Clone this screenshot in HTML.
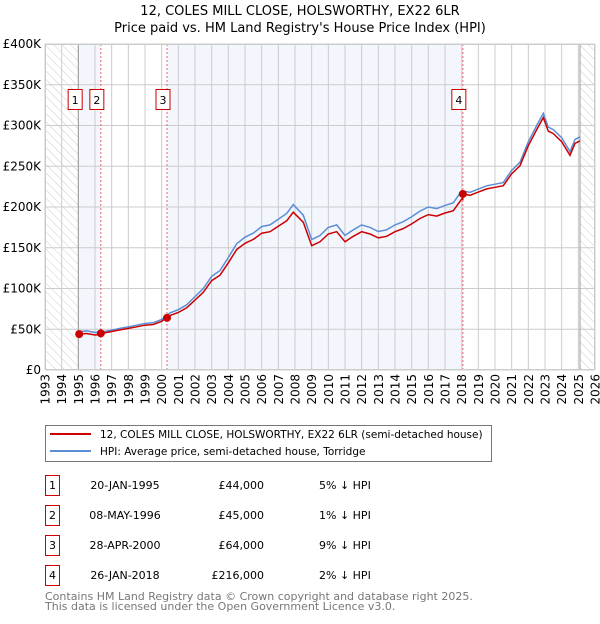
<!DOCTYPE html>
<html><head><meta charset="utf-8"><style>
body{margin:0;background:#fff;font-family:"DejaVu Sans","Liberation Sans",sans-serif;}
svg text{font-family:"DejaVu Sans","Liberation Sans",sans-serif;}
</style></head><body>
<svg id="c" width="600" height="620" xmlns="http://www.w3.org/2000/svg">
<defs><pattern id="hatch" width="6" height="6" patternUnits="userSpaceOnUse" patternTransform="rotate(-45)"><line x1="0" y1="0" x2="0" y2="6" stroke="#ccc" stroke-width="1"/></pattern></defs>
<text x="300" y="15" text-anchor="middle" font-size="13">12, COLES MILL CLOSE, HOLSWORTHY, EX22 6LR</text>
<text x="300" y="32" text-anchor="middle" font-size="13">Price paid vs. HM Land Registry's House Price Index (HPI)</text>
<g id="plot"></g>
<g>
<rect x="45.5" y="425.5" width="446" height="36" fill="#fff" stroke="#777"/>
<line x1="50" y1="434" x2="91" y2="434" stroke="#cc0000" stroke-width="2"/>
<text x="100" y="438" font-size="10.5">12, COLES MILL CLOSE, HOLSWORTHY, EX22 6LR (semi-detached house)</text>
<line x1="50" y1="451" x2="91" y2="451" stroke="#5b8ed6" stroke-width="2"/>
<text x="100" y="455" font-size="10.5">HPI: Average price, semi-detached house, Torridge</text>
</g>
<g id="table"></g>
<text x="45" y="600" font-size="11" fill="#777">Contains HM Land Registry data © Crown copyright and database right 2025.</text>
<text x="45" y="610" font-size="11" fill="#777">This data is licensed under the Open Government Licence v3.0.</text>
</svg>
<script>
const hpiT=[1995.0,1995.5,1996.0,1996.5,1997.0,1997.5,1998.0,1998.5,1999.0,1999.5,2000.0,2000.5,2001.0,2001.5,2002.0,2002.5,2003.0,2003.5,2004.0,2004.5,2005.0,2005.5,2006.0,2006.5,2007.0,2007.5,2007.9,2008.5,2009.0,2009.5,2010.0,2010.5,2011.0,2011.5,2012.0,2012.5,2013.0,2013.5,2014.0,2014.5,2015.0,2015.5,2016.0,2016.5,2017.0,2017.5,2018.0,2018.5,2019.0,2019.5,2020.0,2020.5,2021.0,2021.5,2022.0,2022.5,2022.9,2023.2,2023.5,2024.0,2024.5,2024.8,2025.1];
const hpiV=[47,48,46,47,49,51,53,55,57,58,62,70,74,80,90,100,115,122,138,155,163,168,176,178,185,192,203,190,160,165,175,178,165,172,178,175,170,172,178,182,188,195,200,198,202,205,220,218,222,226,228,230,245,255,280,300,315,298,295,285,268,283,286];
const saleT=[1995.05,1996.35,2000.32,2018.07];
const saleV=[44,45,64,216];
const saleLabels=["1","2","3","4"];
const saleDates=["20-JAN-1995","08-MAY-1996","28-APR-2000","26-JAN-2018"];
const salePrices=["£44,000","£45,000","£64,000","£216,000"];
const saleHpi=["5% ↓ HPI","1% ↓ HPI","9% ↓ HPI","2% ↓ HPI"];
const yTicks=[0,50,100,150,200,250,300,350,400];
const yTickLabels=["£0","£50K","£100K","£150K","£200K","£250K","£300K","£350K","£400K"];
const xYears=[1993,1994,1995,1996,1997,1998,1999,2000,2001,2002,2003,2004,2005,2006,2007,2008,2009,2010,2011,2012,2013,2014,2015,2016,2017,2018,2019,2020,2021,2022,2023,2024,2025,2026];

const NS="http://www.w3.org/2000/svg";
const L=45,R=595,T=44,B=370,X0=1993,X1=2026;
const xs=t=>L+(t-X0)/(X1-X0)*(R-L);
const ys=v=>B-v/400*(B-T);
const g=document.getElementById('plot');
function mk(tag,attrs,parent){const e=document.createElementNS(NS,tag);for(const k in attrs)e.setAttribute(k,attrs[k]);(parent||g).appendChild(e);return e;}
function hpiAt(t){if(t<=hpiT[0])return hpiV[0];for(let i=1;i<hpiT.length;i++){if(t<=hpiT[i]){const f=(t-hpiT[i-1])/(hpiT[i]-hpiT[i-1]);return hpiV[i-1]+f*(hpiV[i]-hpiV[i-1]);}}return hpiV[hpiV.length-1];}

let e=mk('rect',{x:L,y:T,width:R-L,height:B-T,fill:'#fff'});

[[0,1],[2,3]].forEach((p,i)=>{const r=mk('rect',{x:xs(saleT[p[0]]),y:T,width:xs(saleT[p[1]])-xs(saleT[p[0]]),height:B-T,fill:'#f3f6fd'});
});
e=mk('rect',{x:L,y:T,width:xs(1995)-L,height:B-T,fill:'url(#hatch)'});

e=mk('rect',{x:xs(2025.1),y:T,width:R-xs(2025.1),height:B-T,fill:'url(#hatch)'});

yTicks.forEach((v,i)=>{const l=mk('line',{x1:L,x2:R,y1:ys(v),y2:ys(v),stroke:'#ccc'});

const t=mk('text',{x:L-4,y:ys(v)+4,'text-anchor':'end','font-size':'12'});t.textContent=yTickLabels[i];
});
xYears.forEach(yr=>{const l=mk('line',{x1:xs(yr),x2:xs(yr),y1:T,y2:B,stroke:'#ccc'});

const t=mk('text',{x:0,y:0,'text-anchor':'end','font-size':'12',transform:`translate(${xs(yr)+4.5},${B+4}) rotate(-90)`});t.textContent=yr;
});
e=mk('line',{x1:xs(1995),x2:xs(1995),y1:T,y2:B,stroke:'#999'});
e=mk('line',{x1:xs(2025.1),x2:xs(2025.1),y1:T,y2:B,stroke:'#999'});
saleT.forEach((t,i)=>{if(i===0)return;const l=mk('line',{x1:xs(t),x2:xs(t),y1:T,y2:B,stroke:'#e66','stroke-dasharray':'2,2'});
});
let d='';hpiT.forEach((t,i)=>{d+=(i?'L':'M')+xs(t).toFixed(1)+','+ys(hpiV[i]).toFixed(1);});
e=mk('path',{d:d,fill:'none',stroke:'#5b8ed6','stroke-width':'1.5'});
let pts=[[saleT[0],saleV[0]]];
hpiT.forEach(t=>{if(t<=saleT[0])return;let k=0;for(let i=0;i<saleT.length;i++)if(saleT[i]<=t)k=i;pts.push([t,saleV[k]*hpiAt(t)/hpiAt(saleT[k])]);});
saleT.forEach((t,i)=>{if(i>0){pts.push([t-0.001,saleV[i-1]*hpiAt(t)/hpiAt(saleT[i-1])]);pts.push([t,saleV[i]]);}});
pts.sort((a,b)=>a[0]-b[0]);
d='';pts.forEach((p,i)=>{d+=(i?'L':'M')+xs(p[0]).toFixed(1)+','+ys(p[1]).toFixed(1);});
e=mk('path',{d:d,fill:'none',stroke:'#cc0000','stroke-width':'1.5'});
e=mk('rect',{x:L+0.5,y:T+0.5,width:R-L-1,height:B-T-1,fill:'none',stroke:'#ccc'});
saleT.forEach((t,i)=>{const c=mk('circle',{cx:xs(t),cy:ys(saleV[i]),r:4,fill:'#cc0000'});

const bx=xs(t)-4;
const r=mk('rect',{x:bx-7,y:89.5,width:14,height:20,fill:'#fff',stroke:'#cc0000'});

const tx=mk('text',{x:bx,y:104,'text-anchor':'middle','font-size':'11'});tx.textContent=saleLabels[i];
});
const tb=document.getElementById('table');
saleLabels.forEach((lab,i)=>{const y=475+i*30;
let r=mk('rect',{x:45.5,y:y+0.5,width:14,height:20,fill:'#fff',stroke:'#cc0000'},tb);
let t=mk('text',{x:52.5,y:y+14,'text-anchor':'middle','font-size':'11'},tb);t.textContent=lab;
t=mk('text',{x:125,y:y+14,'text-anchor':'middle','font-size':'11'},tb);t.textContent=saleDates[i];
t=mk('text',{x:264,y:y+14,'text-anchor':'end','font-size':'11'},tb);t.textContent=salePrices[i];
t=mk('text',{x:319,y:y+14,'font-size':'11'},tb);t.textContent=saleHpi[i];});
</script>
</body></html>
